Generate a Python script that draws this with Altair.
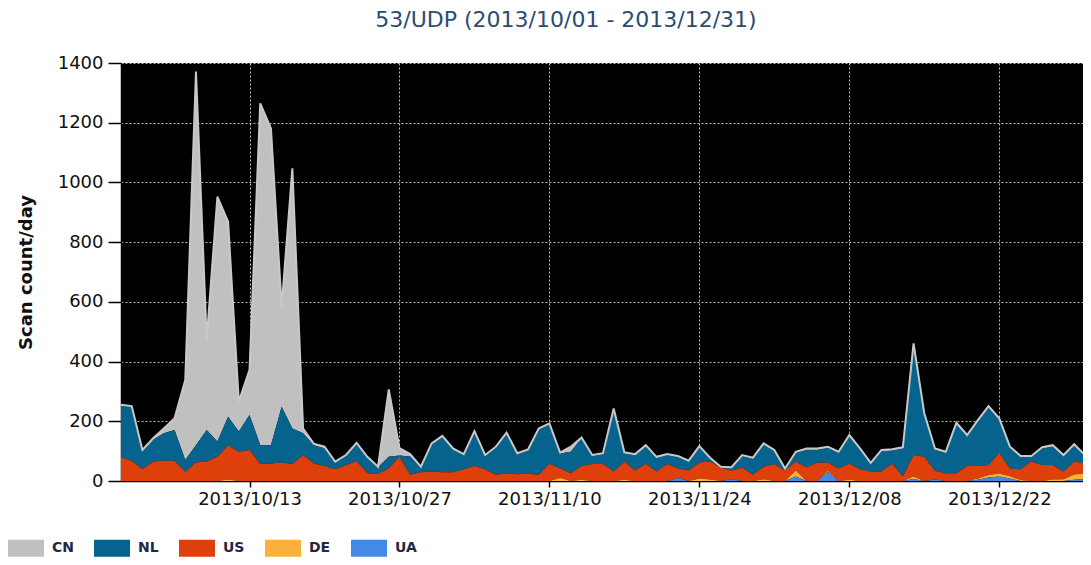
import altair as alt
import pandas as pd

# ---- data ----
dates = pd.date_range("2013-10-01", periods=92, freq="D").strftime("%Y-%m-%dT00:00:00").tolist()

CN = [3, 3, 4, 5, 16, 39, 268, 1251, 301, 820,
      653, 100, 151, 1145, 1061, 335, 871, 16, 5, 5,
      3, 4, 4, 3, 2, 226, 25, 8, 3, 4,
      4, 4, 3, 4, 3, 4, 4, 3, 4, 4,
      4, 3, 17, 3, 3, 3, 5, 3, 3, 4,
      3, 3, 3, 3, 4, 3, 2, 2, 3, 3,
      4, 4, 2, 3, 4, 4, 4, 3, 4, 4,
      3, 4, 4, 4, 6, 5, 4, 3, 5, 4,
      5, 5, 5, 4, 3, 3, 4, 4, 3, 4,
      3, 3]
NL = [173, 180, 61, 73, 92, 103, 39, 58, 106, 51,
      95, 68, 117, 63, 61, 187, 119, 73, 61, 60,
      23, 30, 57, 52, 22, 39, 4, 61, 16, 90,
      118, 76, 48, 113, 45, 90, 132, 67, 78, 151,
      131, 50, 72, 93, 27, 33, 206, 28, 52, 58,
      46, 30, 39, 30, 51, 10, 2, 9, 40, 54,
      74, 43, 5, 30, 59, 44, 49, 53, 92, 66,
      26, 68, 44, 93, 368, 141, 71, 69, 164, 100,
      149, 192, 110, 69, 42, 16, 55, 62, 52, 54,
      26, 8]
US = [79, 68, 39, 65, 68, 68, 31, 62, 65, 81,
      115, 98, 104, 57, 59, 62, 57, 87, 59, 50,
      39, 53, 67, 26, 24, 42, 81, 21, 29, 32,
      29, 29, 39, 50, 39, 21, 26, 23, 24, 21,
      58, 32, 26, 46, 57, 57, 32, 61, 35, 58,
      32, 57, 32, 35, 54, 60, 44, 29, 44, 21,
      42, 57, 35, 30, 46, 61, 28, 42, 54, 39,
      32, 32, 58, 16, 72, 81, 29, 26, 26, 50,
      42, 34, 70, 26, 36, 65, 54, 49, 26, 43,
      32, 28]
DE = [0, 0, 0, 0, 0, 0, 0, 0, 0, 0,
      5, 0, 0, 0, 0, 0, 0, 0, 0, 0,
      0, 0, 0, 0, 0, 0, 0, 0, 0, 0,
      0, 0, 0, 0, 0, 0, 0, 0, 0, 0,
      0, 10, 0, 4, 0, 0, 0, 4, 0, 0,
      0, 0, 0, 0, 8, 5, 0, 0, 0, 0,
      6, 0, 0, 20, 0, 0, 4, 0, 4, 0,
      0, 0, 0, 0, 8, 0, 0, 0, 0, 0,
      4, 8, 10, 8, 3, 0, 0, 5, 6, 18,
      20, 15]
UA = [0, 0, 0, 0, 0, 0, 0, 0, 0, 0,
      0, 0, 0, 0, 0, 0, 0, 0, 0, 0,
      0, 0, 0, 0, 0, 0, 0, 0, 0, 0,
      0, 0, 0, 0, 0, 0, 0, 0, 0, 0,
      0, 0, 0, 0, 0, 0, 0, 0, 0, 0,
      0, 0, 10, 0, 0, 0, 0, 6, 0, 0,
      0, 0, 0, 15, 0, 0, 30, 0, 0, 0,
      0, 0, 0, 0, 7, 0, 5, 0, 0, 0,
      4, 12, 15, 8, 0, 0, 0, 0, 0, 4,
      6, 5]

countries = ["CN", "NL", "US", "DE", "UA"]
colors = ["#c0c0c0", "#05638e", "#df400b", "#fbb03b", "#438ae6"]
stack_rank = {"UA": 0, "DE": 1, "US": 2, "NL": 3, "CN": 4}
series = {"CN": CN, "NL": NL, "US": US, "DE": DE, "UA": UA}
tick_dates = [(2013, 10, 13), (2013, 10, 27), (2013, 11, 10),
              (2013, 11, 24), (2013, 12, 8), (2013, 12, 22)]
y_ticks = [0, 200, 400, 600, 800, 1000, 1200, 1400]
title_text = "53/UDP (2013/10/01 - 2013/12/31)"
y_title = "Scan count/day"

rows = []
for c in countries:
    for d, v in zip(dates, series[c]):
        rows.append({"date": d, "country": c, "value": v, "rank": stack_rank[c]})
df = pd.DataFrame(rows)

x_domain = [alt.DateTime(year=2013, month=10, date=1),
            alt.DateTime(year=2013, month=12, date=29, hours=19, minutes=40)]
x_values = [alt.DateTime(year=y, month=m, date=d) for (y, m, d) in tick_dates]

x_axis = alt.Axis(values=x_values, format="%Y/%m/%d", title=None, tickSize=6,
                  labelPadding=3, grid=True, labelAngle=0)
y_axis = alt.Axis(values=y_ticks, format="d", title=y_title, tickSize=13,
                  labelPadding=5, titlePadding=22, grid=True)

area = alt.Chart(df).mark_area(interpolate="linear", clip=True, opacity=1).encode(
    x=alt.X("date:T", scale=alt.Scale(domain=x_domain), axis=x_axis),
    y=alt.Y("value:Q", stack="zero",
            scale=alt.Scale(domain=[0, 1400], nice=False), axis=y_axis),
    color=alt.Color("country:N",
                    scale=alt.Scale(domain=countries, range=colors),
                    legend=alt.Legend(
                        title=None, orient="none", legendX=-113, legendY=467,
                        direction="horizontal", columns=5,
                        symbolType="M-1,-0.47H1V0.47H-1Z", symbolSize=1296,
                        symbolStrokeWidth=0, symbolOpacity=1,
                        labelFont="DejaVu Sans", labelFontWeight="bold",
                        labelFontSize=14, labelColor="#1e2a44",
                        labelOffset=8, columnPadding=20, padding=0)),
    order=alt.Order("rank:Q", sort="ascending"),
)

top_line = alt.Chart(df).transform_aggregate(
    total="sum(value)", groupby=["date"]
).mark_line(color="#c8c8c8", strokeWidth=2, clip=True).encode(
    x=alt.X("date:T", title=None),
    y=alt.Y("total:Q", title=y_title),
)

chart = alt.layer(area, top_line).properties(
    width=962, height=418,
    autosize=alt.AutoSizeParams(type="none"),
    padding={"left": 113, "top": 55, "right": 0, "bottom": 76},
    title=alt.TitleParams(title_text, font="DejaVu Sans", fontSize=22,
                          fontWeight="normal", color="#2d4b73",
                          anchor="middle", frame="group", dx=-36,
                          offset=5, baseline="alphabetic"),
    background="white",
).configure_view(
    fill="black", stroke=None
).configure_axis(
    labelFont="DejaVu Sans", labelFontSize=18, labelColor="#111111",
    titleFont="DejaVu Sans", titleFontSize=18, titleFontWeight="bold",
    titleColor="#111111",
    domainColor="black", domainWidth=1.5, tickColor="black", tickWidth=1.5,
    gridColor="#cfcfcf", gridDash=[2, 2], gridWidth=1, gridOpacity=0.9,
)

chart.save("out.html", embed_options={"renderer": "svg", "actions": False})
